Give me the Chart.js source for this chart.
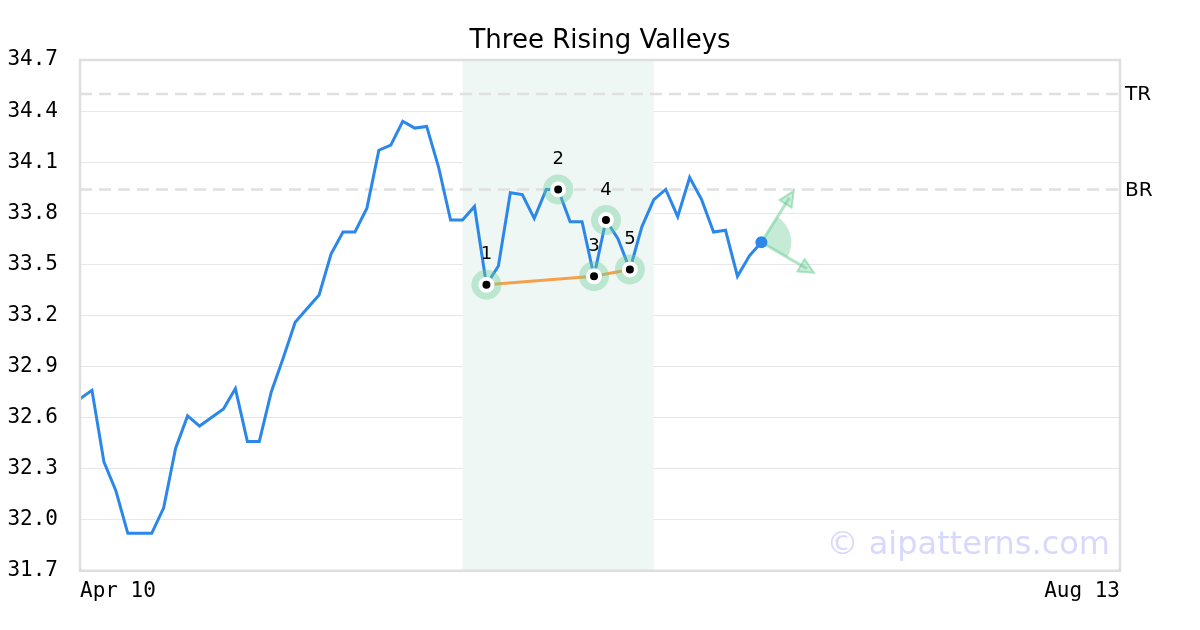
<!DOCTYPE html>
<html>
<head>
<meta charset="utf-8">
<title>Three Rising Valleys</title>
<script src="https://cdn.jsdelivr.net/npm/chart.js@4.4.1/dist/chart.umd.min.js"></script>
<style>
    body { margin: 0; background: #fff; }
    #wrap { width: 1200px; height: 630px; position: relative; }
</style>
</head>
<body>
<div id="wrap"><canvas id="patternChart"></canvas></div>
<script>
const chartTitle = 'Three Rising Valleys';

// x axis: trading days, only the first and last are labelled
const dayCount = 88;
const edgeLabels = ['Apr 10', 'Aug 13'];

// closing prices, one per trading day
const prices = [
    32.71, 32.76, 32.34, 32.17, 31.92, 31.92, 31.92, 32.07, 32.42, 32.61,
    32.55, 32.60, 32.65, 32.77, 32.46, 32.46, 32.75, 32.95, 33.16, 33.24,
    33.32, 33.56, 33.69, 33.69, 33.83, 34.17, 34.20, 34.34, 34.30, 34.31,
    34.07, 33.76, 33.76, 33.84, 33.38, 33.49, 33.92, 33.91, 33.77, 33.94,
    33.94, 33.75, 33.75, 33.43, 33.76, 33.65, 33.47, 33.72, 33.88, 33.94,
    33.78, 34.01, 33.88, 33.69, 33.70, 33.43, 33.55, 33.63
];

// y ticks
const yMin = 31.7;
const yMax = 34.7;
const yStep = 0.3;

// pattern points
const patternIdx = [34, 40, 43, 44, 46];
const patternNames = ['1', '2', '3', '4', '5'];
const valleyIdx = [34, 43, 46];
const patternRange = [32, 48];

// resistance levels
const levelNames = ['TR', 'BR'];
const levelValues = [34.5, 33.94];

// projection from the last close
const lastIdx = prices.length - 1;
const projUp = [59.7, 33.93];
const projDown = [61.4, 33.45];

const labels = [];
for (let i = 0; i < dayCount; i++) {
    labels.push(i === 0 ? edgeLabels[0] : (i === dayCount - 1 ? edgeLabels[1] : ''));
}

function sparse(idxList) {
    const arr = new Array(dayCount).fill(null);
    idxList.forEach(i => { arr[i] = prices[i]; });
    return arr;
}

const MONO = '"DejaVu Sans Mono", monospace';
const SANS = '"DejaVu Sans", sans-serif';
const GREEN_SOFT = 'rgba(110, 205, 155, 0.4)';

const extras = {
    id: 'extras',
    beforeDatasetsDraw(chart) {
        const { ctx, chartArea: a, scales: { x, y } } = chart;
        ctx.save();
        // title, centred on the whole canvas
        ctx.fillStyle = '#000';
        ctx.font = '26px ' + SANS;
        ctx.textAlign = 'center';
        ctx.textBaseline = 'middle';
        ctx.fillText(chartTitle, chart.width / 2, 41);

        // pattern band
        const x0 = x.getPixelForValue(patternRange[0]);
        const x1 = x.getPixelForValue(patternRange[1]);
        ctx.fillStyle = '#eff7f4';
        ctx.fillRect(x0, a.top, x1 - x0, a.bottom - a.top);

        // level lines
        ctx.strokeStyle = '#e0e0e0';
        ctx.lineWidth = 2.5;
        ctx.setLineDash([12, 7]);
        levelValues.forEach((v, i) => {
            const py = y.getPixelForValue(v);
            ctx.beginPath();
            ctx.moveTo(a.left, py);
            ctx.lineTo(a.right, py);
            ctx.stroke();
        });
        ctx.setLineDash([]);
        ctx.fillStyle = '#000';
        ctx.font = '20px ' + SANS;
        ctx.textAlign = 'left';
        levelValues.forEach((v, i) => {
            ctx.fillText(levelNames[i], a.right + 5, y.getPixelForValue(v) + 1);
        });

        // watermark
        ctx.fillStyle = 'rgba(190, 190, 255, 0.6)';
        ctx.font = '32px ' + SANS;
        ctx.textAlign = 'right';
        ctx.fillText('\u00a9 aipatterns.com', a.right - 10, a.bottom - 25);
        ctx.restore();
    },
    afterDatasetsDraw(chart) {
        const { ctx, chartArea: a, scales: { x, y } } = chart;
        ctx.save();
        // numbers above pattern points
        ctx.fillStyle = '#000';
        ctx.font = '18px ' + SANS;
        ctx.textAlign = 'center';
        ctx.textBaseline = 'middle';
        patternIdx.forEach((idx, i) => {
            ctx.fillText(patternNames[i], x.getPixelForValue(idx), y.getPixelForValue(prices[idx]) - 30);
        });

        // projection wedge and arrows
        const cx = x.getPixelForValue(lastIdx);
        const cy = y.getPixelForValue(prices[lastIdx]);
        const ux = x.getPixelForValue(projUp[0]), uy = y.getPixelForValue(projUp[1]);
        const dx = x.getPixelForValue(projDown[0]), dy = y.getPixelForValue(projDown[1]);
        const angUp = Math.atan2(uy - cy, ux - cx);
        const angDown = Math.atan2(dy - cy, dx - cx);
        ctx.fillStyle = GREEN_SOFT;
        ctx.beginPath();
        ctx.moveTo(cx, cy);
        ctx.arc(cx, cy, 30, angUp, angDown);
        ctx.closePath();
        ctx.fill();

        [[ux, uy, angUp], [dx, dy, angDown]].forEach(([tx, ty, ang]) => {
            ctx.strokeStyle = 'rgba(110, 205, 155, 0.55)';
            ctx.lineWidth = 3;
            ctx.beginPath();
            ctx.moveTo(cx, cy);
            ctx.lineTo(tx - Math.cos(ang) * 8, ty - Math.sin(ang) * 8);
            ctx.stroke();
            // head
            const len = 15, w = 7;
            const bx = tx - Math.cos(ang) * len, by = ty - Math.sin(ang) * len;
            ctx.beginPath();
            ctx.moveTo(tx, ty);
            ctx.lineTo(bx + Math.sin(ang) * w, by - Math.cos(ang) * w);
            ctx.lineTo(bx - Math.sin(ang) * w, by + Math.cos(ang) * w);
            ctx.closePath();
            ctx.fillStyle = 'rgba(110, 205, 155, 0.35)';
            ctx.fill();
            ctx.lineWidth = 2;
            ctx.stroke();
        });

        // last close dot
        ctx.fillStyle = '#2b87e8';
        ctx.beginPath();
        ctx.arc(cx, cy, 6, 0, Math.PI * 2);
        ctx.fill();

        // frame
        ctx.strokeStyle = '#dedede';
        ctx.lineWidth = 2.5;
        ctx.strokeRect(a.left, a.top, a.right - a.left, a.bottom - a.top);
        ctx.restore();
    }
};

const ctx = document.getElementById('patternChart').getContext('2d');
new Chart(ctx, {
    type: 'line',
    data: {
        labels: labels,
        datasets: [
            {
                label: 'valleys',
                data: sparse(valleyIdx),
                borderColor: '#f5a04a',
                borderWidth: 3,
                pointRadius: 0,
                spanGaps: true,
                order: 3
            },
            {
                label: 'price',
                data: prices,
                borderColor: '#2b87e8',
                borderWidth: 3,
                pointRadius: 0,
                tension: 0,
                order: 2
            },
            {
                label: 'halo',
                data: sparse(patternIdx),
                showLine: false,
                pointRadius: 15,
                pointBackgroundColor: GREEN_SOFT,
                pointBorderWidth: 0,
                order: 1
            },
            {
                label: 'points',
                data: sparse(patternIdx),
                showLine: false,
                pointRadius: 6,
                pointBackgroundColor: '#000',
                pointBorderColor: '#fff',
                pointBorderWidth: 4,
                order: 0
            }
        ]
    },
    options: {
        responsive: true,
        maintainAspectRatio: false,
        animation: false,
        layout: { padding: { left: 6, right: 80, top: 60, bottom: 26 } },
        plugins: {
            legend: { display: false },
            tooltip: { enabled: false },
            title: { display: false }
        },
        scales: {
            x: {
                grid: { display: false },
                border: { display: false },
                ticks: {
                    autoSkip: false,
                    maxRotation: 0,
                    align: 'inner',
                    padding: 0,
                    color: '#000',
                    font: { family: MONO, size: 21 },
                    callback: (v, i) => labels[i] || null
                }
            },
            y: {
                min: yMin,
                max: yMax,
                afterFit: axis => { axis.width = 74; },
                grid: { color: '#e6e6e6', lineWidth: 1, drawTicks: false },
                border: { display: false },
                ticks: {
                    stepSize: yStep,
                    padding: 22,
                    color: '#000',
                    font: { family: MONO, size: 21 },
                    callback: v => v.toFixed(1)
                }
            }
        }
    },
    plugins: [extras]
});
</script>
</body>
</html>
